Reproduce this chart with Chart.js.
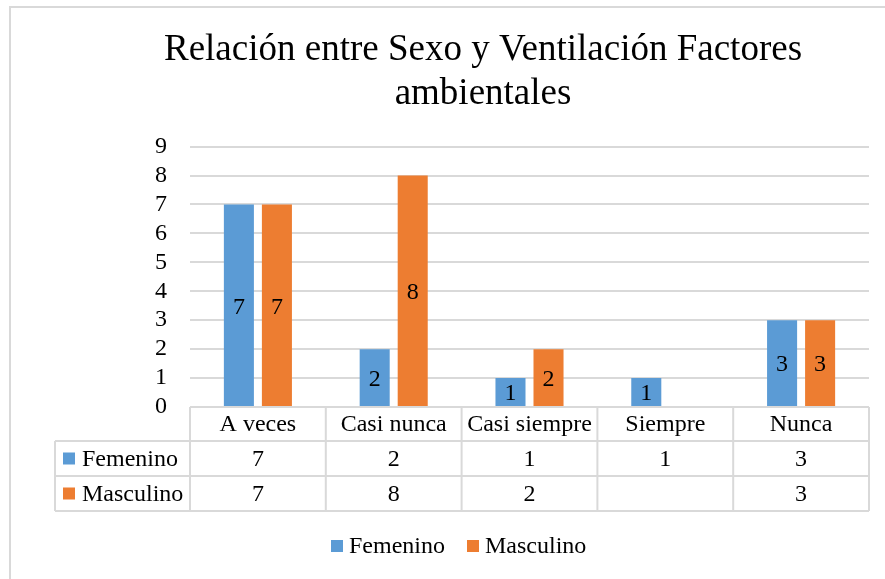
<!DOCTYPE html>
<html>
<head>
<meta charset="utf-8">
<script src="https://cdn.jsdelivr.net/npm/chart.js@4.4.0/dist/chart.umd.min.js"></script>
<style>
  html, body { margin: 0; padding: 0; background: #fff; }
  canvas { display: block; }
</style>
</head>
<body>
<canvas id="chart" width="885" height="579"></canvas>
<script>
const categories = ["A veces", "Casi nunca", "Casi siempre", "Siempre", "Nunca"];
const femenino = [7, 2, 1, 1, 3];
const masculino = [7, 8, 2, null, 3];
const seriesNames = ["Femenino", "Masculino"];
const yMax = 9;

const serif = "'Liberation Serif', 'Times New Roman', serif";
const blue = "#5B9BD5";
const orange = "#ED7D31";
const lineGray = "#D9D9D9";

// rows of the data table under the plot: header, then one per series
const rowHeights = [34, 35, 35];

const tablePlugin = {
  id: "dataTable",
  beforeDraw: chart => {
    const ctx = chart.ctx;
    ctx.save();
    ctx.strokeStyle = lineGray;
    ctx.lineWidth = 2;
    ctx.strokeRect(10, 7, 900, 600);
    ctx.restore();
  },
  afterDatasetsDraw: chart => {
    const ctx = chart.ctx;
    ctx.save();
    ctx.font = "24px " + serif;
    ctx.fillStyle = "#000";
    ctx.textAlign = "center";
    ctx.textBaseline = "middle";
    chart.data.datasets.forEach((ds, di) => {
      const meta = chart.getDatasetMeta(di);
      meta.data.forEach((bar, i) => {
        if (ds.data[i] === null) return;
        ctx.fillText(String(ds.data[i]), bar.x, (bar.y + bar.base) / 2 + 2);
      });
    });
    ctx.restore();
  },
  afterDraw: chart => {
    const ctx = chart.ctx;
    const xs = chart.scales.x;
    const area = chart.chartArea;
    const step = xs.getPixelForTick(1) - xs.getPixelForTick(0);
    const bounds = categories.map((c, i) => xs.getPixelForTick(i) - step / 2);
    bounds.push(area.right);
    const tableLeft = 55;

    const rowTops = [area.bottom];
    rowHeights.forEach(h => rowTops.push(rowTops[rowTops.length - 1] + h));
    const bottom = rowTops[rowTops.length - 1];

    ctx.save();
    ctx.strokeStyle = lineGray;
    ctx.lineWidth = 2;
    ctx.beginPath();
    // horizontal lines
    ctx.moveTo(area.left, rowTops[0]);
    ctx.lineTo(area.right, rowTops[0]);
    for (let r = 1; r < rowTops.length; r++) {
      ctx.moveTo(tableLeft, rowTops[r]);
      ctx.lineTo(area.right, rowTops[r]);
    }
    // vertical lines
    ctx.moveTo(tableLeft, rowTops[1]);
    ctx.lineTo(tableLeft, bottom);
    bounds.forEach(b => {
      ctx.moveTo(b, rowTops[0]);
      ctx.lineTo(b, bottom);
    });
    ctx.stroke();

    ctx.font = "24px " + serif;
    ctx.fillStyle = "#000";
    ctx.textBaseline = "middle";
    ctx.textAlign = "center";

    // header with the categories
    const headY = (rowTops[0] + rowTops[1]) / 2 + 1;
    categories.forEach((c, i) => {
      ctx.fillText(c, (bounds[i] + bounds[i + 1]) / 2, headY);
    });

    // one row per series
    chart.data.datasets.forEach((ds, di) => {
      const cy = (rowTops[di + 1] + rowTops[di + 2]) / 2 + 1;
      ctx.fillStyle = ds.backgroundColor;
      ctx.fillRect(63, cy - 7, 12, 12);
      ctx.fillStyle = "#000";
      ctx.textAlign = "left";
      ctx.fillText(ds.label, 82, cy);
      ctx.textAlign = "center";
      ds.data.forEach((v, i) => {
        if (v === null) return;
        ctx.fillText(String(v), (bounds[i] + bounds[i + 1]) / 2, cy);
      });
    });

    // legend at the bottom
    const legendY = 547;
    const legendX = [331, 467];
    chart.data.datasets.forEach((ds, di) => {
      ctx.fillStyle = ds.backgroundColor;
      ctx.fillRect(legendX[di], legendY - 7, 12, 12);
      ctx.fillStyle = "#000";
      ctx.textAlign = "left";
      ctx.fillText(ds.label, legendX[di] + 18, legendY);
    });
    ctx.restore();
  }
};

new Chart(document.getElementById("chart"), {
  type: "bar",
  plugins: [tablePlugin],
  data: {
    labels: categories,
    datasets: [
      {
        label: seriesNames[0],
        data: femenino,
        backgroundColor: blue,
        categoryPercentage: 0.56,
        barPercentage: 0.79
      },
      {
        label: seriesNames[1],
        data: masculino,
        backgroundColor: orange,
        categoryPercentage: 0.56,
        barPercentage: 0.79
      }
    ]
  },
  options: {
    responsive: false,
    animation: false,
    layout: {
      padding: { top: 10, left: 97, right: 16, bottom: 172 }
    },
    plugins: {
      legend: { display: false },
      tooltip: { enabled: false },
      title: {
        display: true,
        text: ["Relación entre Sexo y Ventilación Factores", "ambientales"],
        color: "#000",
        font: { family: serif, size: 37, weight: "normal", lineHeight: 1.17 },
        padding: { top: 19, bottom: 31 }
      }
    },
    scales: {
      x: {
        display: false
      },
      y: {
        min: 0,
        max: yMax,
        afterFit: scale => { scale.width = 93; },
        border: { display: false },
        grid: { color: lineGray, lineWidth: 2, drawTicks: false },
        ticks: {
          stepSize: 1,
          autoSkip: false,
          padding: 23,
          color: "#000",
          font: { family: serif, size: 24 }
        }
      }
    }
  }
});
</script>
</body>
</html>
